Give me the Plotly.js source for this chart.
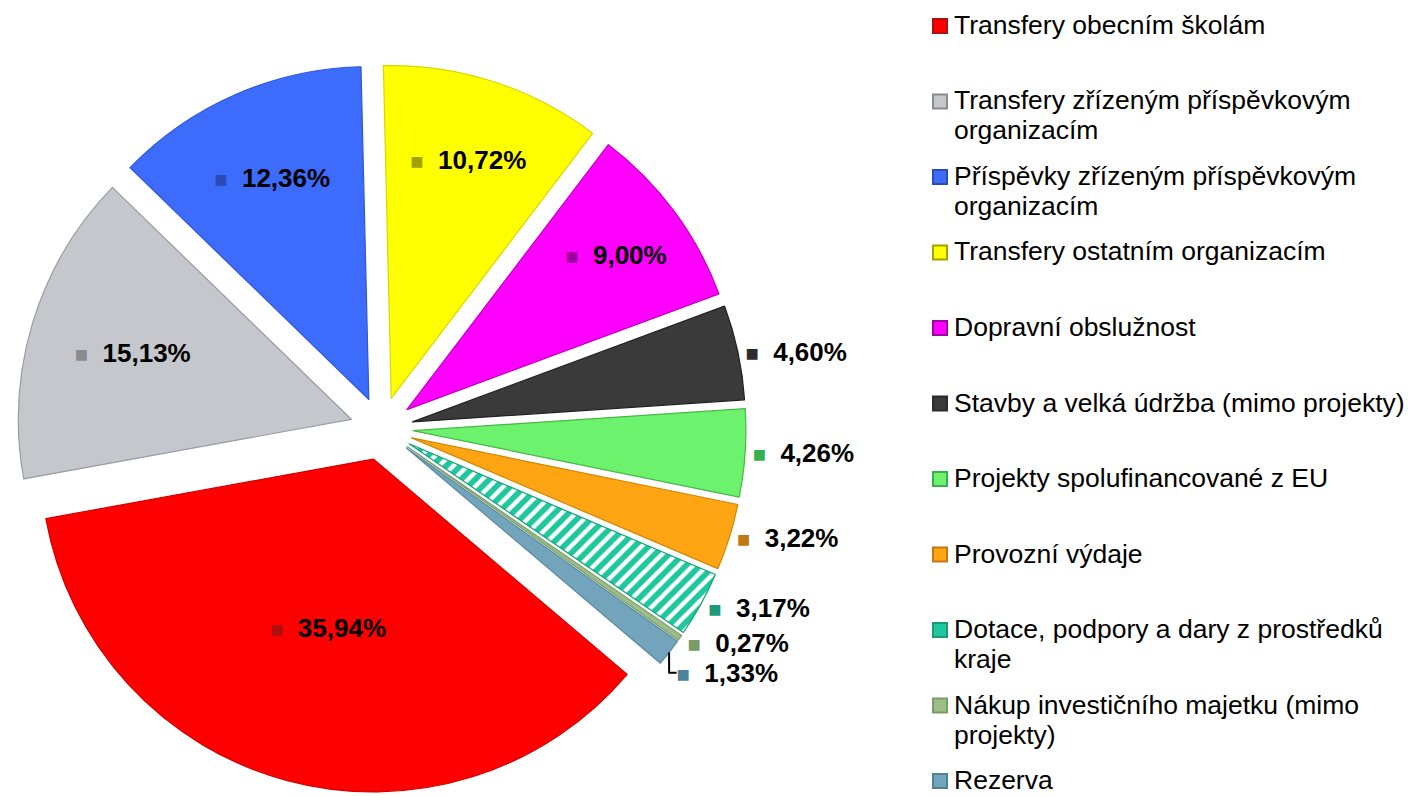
<!DOCTYPE html>
<html><head><meta charset="utf-8">
<script src="https://cdn.plot.ly/plotly-3.0.1.min.js"></script>
<style>html,body{margin:0;padding:0;background:#fff}#chart{width:1408px;height:796px}</style>
</head><body><div id="chart"></div>
<script>
// ---- data ----
const categories = [
  "Transfery obecním školám",
  "Transfery zřízeným příspěvkovým organizacím",
  "Příspěvky zřízeným příspěvkovým organizacím",
  "Transfery ostatním organizacím",
  "Dopravní obslužnost",
  "Stavby a velká údržba (mimo projekty)",
  "Projekty spolufinancované z EU",
  "Provozní výdaje",
  "Dotace, podpory a dary z prostředků kraje",
  "Nákup investičního majetku (mimo projekty)",
  "Rezerva"
];
const shares = [35.94, 15.13, 12.36, 10.72, 9.00, 4.60, 4.26, 3.22, 3.17, 0.27, 1.33];
const legendLabels = [
  "Transfery obecním školám",
  "Transfery zřízeným příspěvkovým<br>organizacím",
  "Příspěvky zřízeným příspěvkovým<br>organizacím",
  "Transfery ostatním organizacím",
  "Dopravní obslužnost",
  "Stavby a velká údržba (mimo projekty)",
  "Projekty spolufinancované z EU",
  "Provozní výdaje",
  "Dotace, podpory a dary z prostředků<br>kraje",
  "Nákup investičního majetku (mimo<br>projekty)",
  "Rezerva"
];
const sliceColors = ["#ff0000", "#c6c7cc", "#3d6bfb", "#ffff00", "#ff00ff", "#3a3a3a", "#6cf26c", "#ffa514", "#1ec79d", "#9cbf88", "#72a4bc"];
const iconColors  = ["#b01010", "#8a8a90", "#2a4cb8", "#a3a300", "#a000a0", "#2b2b2b", "#38b050", "#c07810", "#1a9a78", "#7a9a66", "#4d8398"];
const edgeColors  = ["#d00000", "#9a9ba2", "#2f56d8", "#d8d800", "#c000c0", "#222222", "#48b848", "#d08800", "#14a07c", "#7e9f6c", "#5a8aa0"];
const textPositions = ["inside", "inside", "inside", "inside", "inside", "outside", "outside", "outside", "outside", "outside", "outside"];
const patternShapes = ["", "", "", "", "", "", "", "", "/", "", ""];

// ---- helpers ----
const W = 1408, H = 796;
const px = x => x / W;
const py = y => 1 - y / H;
const fmt = v => v.toFixed(2).replace('.', ',') + '%';
const FONT = 'Arial, "Liberation Sans", sans-serif';

const labelText = shares.map((v, i) =>
  `<span style="color:${iconColors[i]};font-size:22px">■</span>  ${fmt(v)}`);

const trace = {
  type: 'pie',
  labels: categories,
  values: shares,
  text: labelText,
  textinfo: 'text',
  hoverinfo: 'label+percent',
  sort: false,
  direction: 'clockwise',
  rotation: 130.3,
  pull: 0.095,
  textposition: textPositions,
  insidetextorientation: 'horizontal',
  textfont: {family: FONT, size: 26, color: '#000000', weight: 'bold'},
  insidetextfont: {family: FONT, size: 26, color: '#000000', weight: 'bold'},
  outsidetextfont: {family: FONT, size: 26, color: '#000000', weight: 'bold'},
  marker: {
    colors: sliceColors,
    line: {color: edgeColors, width: 1.2},
    pattern: {shape: patternShapes, fgcolor: '#ffffff', bgcolor: sliceColors, size: 10, solidity: 0.42}
  },
  domain: {x: [px(17), px(746)], y: [py(793), py(64)]},
  showlegend: false
};

// ---- legend (drawn as annotations + shapes) ----
const annotations = [];
const shapes = [];
const legendX = 952, legendY0 = 25, legendStep = 75.5, lineStep = 30;
legendLabels.forEach((lab, i) => {
  const yc = legendY0 + legendStep * i;
  lab.split('<br>').forEach((line, j) => {
    annotations.push({
      xref: 'paper', yref: 'paper', x: px(legendX), y: py(yc + j * lineStep),
      xanchor: 'left', yanchor: 'middle', showarrow: false, text: line,
      font: {family: FONT, size: 26.5, color: '#000000'}
    });
  });
  shapes.push({
    type: 'rect', xref: 'paper', yref: 'paper',
    x0: px(933), x1: px(947), y0: py(yc + 8), y1: py(yc - 6),
    fillcolor: sliceColors[i], line: {color: iconColors[i], width: 2}
  });
});

const layout = {
  width: W, height: H,
  margin: {l: 0, r: 0, t: 0, b: 0},
  paper_bgcolor: '#ffffff',
  plot_bgcolor: '#ffffff',
  showlegend: false,
  annotations: annotations,
  shapes: shapes
};

Plotly.newPlot('chart', [trace], layout, {displayModeBar: false, staticPlot: true});
</script>
</body></html>
